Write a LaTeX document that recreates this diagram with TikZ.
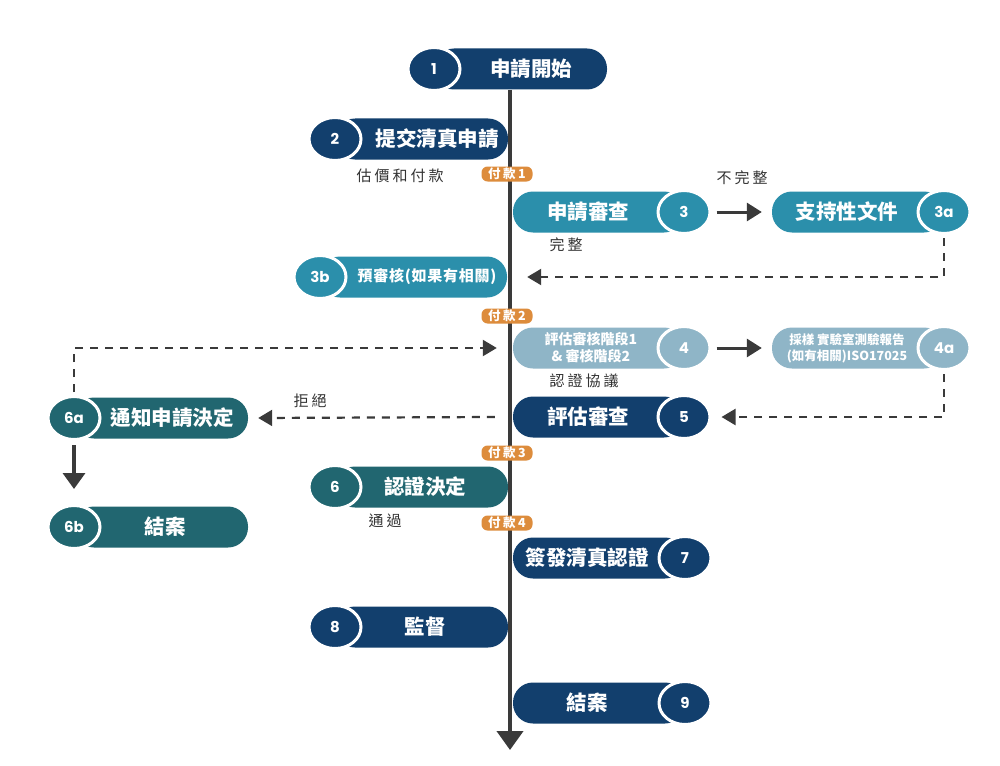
\documentclass[tikz,border=0pt]{standalone}
\usepackage{fontspec}
\usetikzlibrary{arrows.meta,shapes.geometric}
\newfontfamily\cjk{Noto Sans CJK TC}
\newfontfamily\cjkls{Noto Sans CJK TC}[LetterSpace=20]
\newfontfamily\cjkms{Noto Sans CJK TC}[LetterSpace=5]
\newfontfamily\numf{Poppins}
\definecolor{navy}{HTML}{123F6D}
\definecolor{teal3}{HTML}{2B8FAB}
\definecolor{light4}{HTML}{8FB5C7}
\definecolor{dteal}{HTML}{216670}
\definecolor{badgeor}{HTML}{DD8C3C}
\definecolor{linegray}{HTML}{3A3A3A}
\definecolor{labgray}{HTML}{333333}
\tikzset{
  pill/.style={rectangle, rounded corners=20pt, minimum height=41pt, inner sep=0pt},
  numc/.style={ellipse, minimum width=52pt, minimum height=43pt, inner sep=0pt, draw=white, line width=3pt, text=white, font=\numf\bfseries\fontsize{15}{17}\selectfont},
  bigtxt/.style={text=white, font=\cjk\bfseries\fontsize{20.5}{24}\selectfont, inner sep=0pt},
  midtxt/.style={text=white, font=\cjk\bfseries\fontsize{14}{17}\selectfont, inner sep=0pt, align=center},
  midtxtb/.style={text=white, font=\cjkms\bfseries\fontsize{15}{17}\selectfont, inner sep=0pt},
  smalltxt/.style={text=white, font=\cjk\bfseries\fontsize{12.5}{16}\selectfont, inner sep=0pt, align=center},
  lab/.style={text=labgray, font=\cjkls\fontsize{15}{17}\selectfont, inner sep=0pt},
  badge/.style={fill=badgeor, rounded corners=6pt, minimum width=51pt, minimum height=15pt, inner sep=0pt, text=white, font=\cjkls\bfseries\fontsize{12.5}{12.5}\selectfont},
  dashc/.style={draw=linegray, line width=2.2pt, dash pattern=on 8pt off 7pt, -{Triangle[length=14pt,width=16pt]}},
  solidc/.style={draw=linegray, line width=3pt, -{Triangle[length=15pt,width=18pt]}}
}
\begin{document}
\begin{tikzpicture}[x=1pt,y=-1pt]
\useasboundingbox (0,0) rectangle (1000,765);
\fill[white] (0,0) rectangle (1000,765);
% 1
\node[pill, fill=navy, minimum width=173pt] (p1) at (520.5,69) {};
\node[numc, fill=navy] (c1) at (434,69) {1};
\node[bigtxt] (t1) at (531,69) {申請開始};
% 2
\node[pill, fill=navy, minimum width=173pt] (p2) at (421.5,139) {};
\node[numc, fill=navy] (c2) at (335,139) {2};
\node[bigtxt] (t2) at (437,139) {提交清真申請};
\node[lab] (l2) at (400,176) {估價和付款};
% 3
\node[pill, fill=teal3, minimum width=171pt] (p3) at (598.5,212) {};
\node[numc, fill=teal3] (c3) at (684,212) {3};
\node[bigtxt] (t3) at (588,212) {申請審查};
\node[lab] (l3) at (566,245) {完整};
% 3a
\node[pill, fill=teal3, minimum width=172pt] (p3a) at (858,212) {};
\node[numc, fill=teal3] (c3a) at (944,212) {3a};
\node[bigtxt] (t3a) at (847,212) {支持性文件};
\node[lab] (l3a) at (742,178) {不完整};
% 3b
\node[pill, fill=teal3, minimum width=187pt] (p3b) at (413.5,277) {};
\node[numc, fill=teal3] (c3b) at (320,277) {3b};
\node[midtxtb] (t3b) at (427,277) {預審核(如果有相關)};
% 4
\node[pill, fill=light4, minimum width=171pt] (p4) at (598.5,348) {};
\node[numc, fill=light4] (c4) at (684,348) {4};
\node[midtxt] (t4) at (591,348) {評估審核階段1\\\& 審核階段2};
\node[lab] (l4) at (584,381) {認證協議};
% 4a
\node[pill, fill=light4, minimum width=172pt] (p4a) at (858,348) {};
\node[numc, fill=light4] (c4a) at (944,348) {4a};
\node[smalltxt] (t4a) at (847,348) {採樣 實驗室測驗報告\\(如有相關)ISO17025};
% 5
\node[pill, fill=navy, minimum width=171pt] (p5) at (598.5,417) {};
\node[numc, fill=navy] (c5) at (684,417) {5};
\node[bigtxt] (t5) at (588,417) {評估審查};
% 6a
\node[pill, fill=dteal, minimum width=174pt] (p6a) at (161,418) {};
\node[numc, fill=dteal] (c6a) at (74,418) {6a};
\node[bigtxt] (t6a) at (172,418) {通知申請決定};
\node[lab] (l6a) at (310,401) {拒絕};
% 6b
\node[pill, fill=dteal, minimum width=174pt] (p6b) at (161,527) {};
\node[numc, fill=dteal] (c6b) at (74,527) {6b};
\node[bigtxt] (t6b) at (165,527) {結案};
% 6
\node[pill, fill=dteal, minimum width=173pt] (p6) at (421.5,487) {};
\node[numc, fill=dteal] (c6) at (335,487) {6};
\node[bigtxt] (t6) at (425,487) {認證決定};
\node[lab] (l6) at (385,521) {通過};
% 7
\node[pill, fill=navy, minimum width=172pt] (p7) at (599,558) {};
\node[numc, fill=navy] (c7) at (685,558) {7};
\node[bigtxt] (t7) at (587,558) {簽發清真認證};
% 8
\node[pill, fill=navy, minimum width=173pt] (p8) at (421.5,627) {};
\node[numc, fill=navy] (c8) at (335,627) {8};
\node[bigtxt] (t8) at (425,627) {監督};
% 9
\node[pill, fill=navy, minimum width=172pt] (p9) at (599,703) {};
\node[numc, fill=navy] (c9) at (685,703) {9};
\node[bigtxt] (t9) at (587,703) {結案};
% main line
\coordinate (top) at (510,90);
\coordinate (bot) at (510,750);
\draw[draw=linegray, line width=4pt, -{Triangle[length=19pt,width=26pt]}] (top) -- (bot);
% badges
\node[badge] (b1) at (507,174) {付款1};
\node[badge] (b2) at (507,316) {付款2};
\node[badge] (b3) at (507,453) {付款3};
\node[badge] (b4) at (507,523) {付款4};
% connectors
\draw[solidc] ([xshift=5pt]c3.east) -- ([xshift=-10pt]p3a.west);
\draw[solidc] ([xshift=5pt]c4.east) -- ([xshift=-10pt]p4a.west);
\draw[dashc] ([yshift=-3pt]c3a.south) |- ([xshift=20pt]p3b.east);
\draw[dashc] ([yshift=-3pt]c4a.south) |- ([xshift=10pt]c5.east);
\draw[dashc] ([xshift=-18pt]p5.west) -- ([xshift=10pt]p6a.east);
\draw[dashc] ([yshift=3pt]c6a.north) |- ([xshift=-16pt]p4.west);
\draw[solidc, line width=3.5pt, -{Triangle[length=16pt,width=22pt]}] ([yshift=-4pt]c6a.south) -- ([yshift=15pt]c6b.north);
\end{tikzpicture}
\end{document}
